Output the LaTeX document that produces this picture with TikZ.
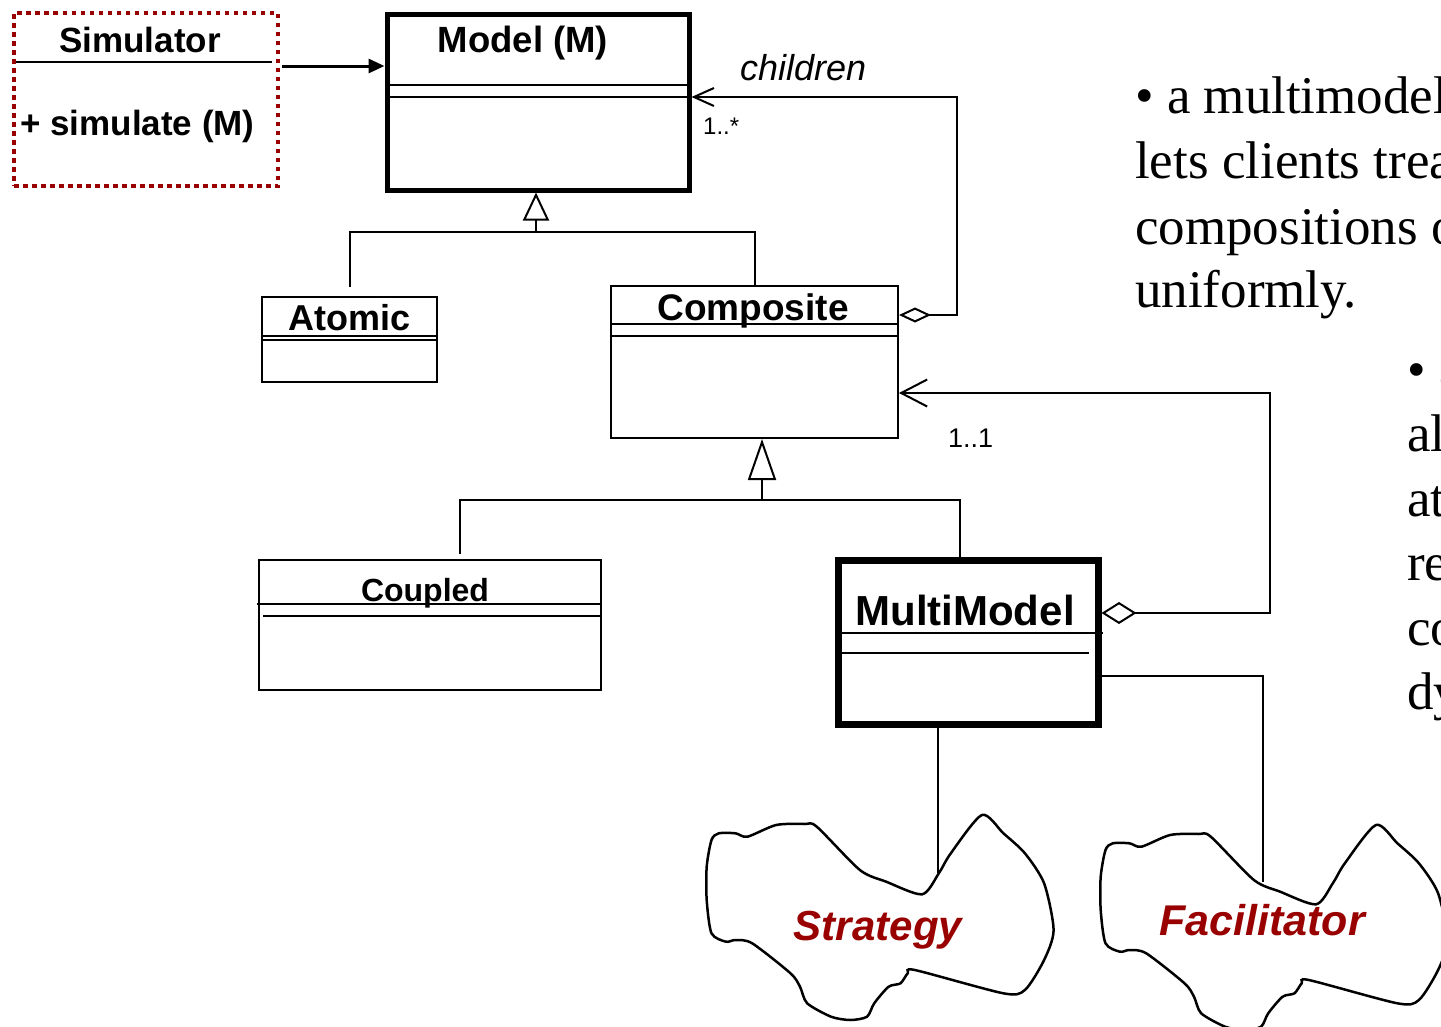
\documentclass[tikz,border=0pt]{standalone}
\usepackage{fontspec}
\setmainfont{Liberation Serif}
\setsansfont{Liberation Sans}
\usetikzlibrary{arrows.meta}
\definecolor{umlred}{RGB}{153,0,0}
\newcommand\fsz[1]{\fontsize{#1}{#1}\selectfont}
% outline of the cloud shapes used for the strategy and facilitator parts
\newcommand\cloudoutline{plot[smooth cycle,tension=0.45] coordinates {
 (718.7,833.3) (735.5,833.3) (747.4,836.7) (776.1,825) (804.8,824) (816.8,826.7)
 (859.9,870) (886.2,881.7) (922.1,894.3) (938.8,873.3) (950.8,853.3) (981.9,815)
 (1003.4,833.3) (1024.9,853.3) (1044.1,883.3) (1053.6,930) (1044.1,960)
 (1024.9,990) (1003.4,993.3) (914.9,970) (907.7,973.3) (900.5,983.3)
 (888.6,986.7) (874.2,1003.3) (867.0,1016.7) (850.3,1020) (831.1,1016.7)
 (807.2,1003.3) (800.0,986.7) (790.5,973.3) (752.2,943.3) (735.5,940)
 (725.9,941.7) (711.5,933.3) (706.7,900) (706.7,866.7) (711.5,840)}}
\tikzset{
  classbox/.style={draw, rectangle, inner sep=0pt, fill=white},
  classname/.style={anchor=base, inner sep=0pt, font=\sffamily\bfseries},
  sepline/.style={line width=2pt},
  conn/.style={line width=2pt},
  cloudline/.style={line width=2.5pt},
  cloudname/.style={anchor=base, inner sep=0pt, text=umlred, font=\sffamily\bfseries\itshape},
  sidetext/.style={anchor=base west, inner sep=0pt, font=\rmfamily\fsz{53}},
  mult/.style={anchor=base west, inner sep=0pt, font=\sffamily},
}
\begin{document}
\begin{tikzpicture}[x=1pt,y=-1pt]
\useasboundingbox (0,0) rectangle (1441,1026);
\clip (0,0) rectangle (1441,1026);
\fill[white] (0,0) rectangle (1441,1026);

% Simulator class
\node[classbox, line width=4.5pt, draw=umlred, dash pattern=on 4.5pt off 4.5pt,
      minimum width=264, minimum height=173] (sim) at (146,99.5) {};
\node[classname, font=\sffamily\bfseries\fsz{35}] (simname) at (140,52) {Simulator};
\draw[sepline] (16,62) -- (272,62);
\node[anchor=base west, inner sep=0pt, font=\sffamily\bfseries\fsz{35}] (simop) at (20,135) {+ simulate (M)};

% Model class
\node[classbox, line width=5pt, minimum width=302, minimum height=176] (model) at (538,102) {};
\node[classname, font=\sffamily\bfseries\fsz{36.5}] (modelname) at (523,52) {Model (M)};
\draw[line width=2.5pt] (387,85) -- (689,85) (387,97) -- (689,97);

% Atomic class
\node[classbox, line width=2pt, minimum width=175, minimum height=85] (atomic) at (349.5,339.5) {};
\node[classname, font=\sffamily\bfseries\fsz{36}] (atomicname) at (350,330) {Atomic};
\draw[sepline] (262,336) -- (437,336) (262,340) -- (437,340);

% Composite class
\node[classbox, line width=2pt, minimum width=287, minimum height=152] (composite) at (754.5,362) {};
\node[classname, font=\sffamily\bfseries\fsz{37}] (compname) at (753,320) {Composite};
\draw[sepline] (611,324) -- (898,324) (611,336) -- (898,336);

% Coupled class
\node[classbox, line width=2.5pt, minimum width=342, minimum height=130] (coupled) at (430,625) {};
\node[classname, font=\sffamily\bfseries\fsz{32}] (coupledname) at (425,601) {Coupled};
\draw[sepline] (257,604) -- (601,604) (263,616) -- (601,616);

% MultiModel class
\node[classbox, line width=7pt, minimum width=260, minimum height=164] (multi) at (968,642) {};
\node[classname, font=\sffamily\bfseries\fsz{42}] (multiname) at (965,625) {MultiModel};
\draw[sepline] (841,633) -- (1103,633) (841,653) -- (1089,653);

% Simulator uses Model
\draw[line width=3pt, -{Triangle[length=16pt,width=14pt]}] ([xshift=2pt]sim.east |- 0,66) -- (model.west |- 0,66);

% generalization Atomic/Composite -> Model
\coordinate (g1) at (536,232);
\draw[conn] ([yshift=9pt]atomic.north) |- (g1) -| (composite.north);
\draw[conn, -{Triangle[open,length=28pt,width=26pt]}] (g1) -- (g1 |- model.south);

% generalization Coupled/MultiModel -> Composite
\coordinate (g2) at (762,500);
\draw[conn] ([xshift=30pt,yshift=5pt]coupled.north) |- (g2) -| ([xshift=-8pt]multi.north);
\draw[conn, -{Triangle[open,length=41pt,width=28pt]}] (g2) -- (g2 |- composite.south);

% aggregation Composite -> Model (children)
\draw[conn, {Diamond[open,length=32pt,width=15pt]}-{Straight Barb[length=20pt,width=18pt]}]
  (composite.east |- 0,315) -| (957,97) -- (model.east |- 0,97);
\node[anchor=base west, inner sep=0pt, font=\sffamily\itshape\fsz{36}] (children) at (740,80) {children};
\node[mult, font=\sffamily\fsz{24}] (multA) at (703,134) {1..*};

% aggregation MultiModel -> Composite
\draw[conn, {Diamond[open,length=35pt,width=22pt]}-{Straight Barb[length=26pt,width=27pt]}]
  (multi.east |- 0,613) -| (1270,393) -- (composite.east |- 0,393);
\node[mult, font=\sffamily\fsz{27}] (multB) at (948,447) {1..1};

% Strategy and Facilitator clouds
\draw[cloudline] \cloudoutline;
\draw[cloudline, shift={(394,10)}] \cloudoutline;
\coordinate (stratTip) at (938,873);
\coordinate (facTip) at (1263,882);
\node[cloudname, font=\sffamily\bfseries\itshape\fsz{42}] (strategy) at (878,940) {Strategy};
\node[cloudname, font=\sffamily\bfseries\itshape\fsz{43}] (facilitator) at (1262,935) {Facilitator};
\draw[conn] (multi.south -| stratTip) -- (stratTip);
\draw[conn] (multi.east |- 0,676) -| (facTip);

% side text
\node[sidetext] (t1) at (1135,113) {• a multimodel};
\node[sidetext] (t2) at (1135,178) {lets clients trea};
\node[sidetext] (t3) at (1135,244) {compositions o};
\node[sidetext] (t4) at (1135,307) {uniformly.};
\node[sidetext] (u1) at (1407,387) {• a};
\node[sidetext] (u2) at (1407,451) {al};
\node[sidetext] (u3) at (1407,516) {at};
\node[sidetext] (u4) at (1407,580) {re};
\node[sidetext] (u5) at (1407,645) {co};
\node[sidetext] (u6) at (1407,709) {dy};
\end{tikzpicture}
\end{document}
